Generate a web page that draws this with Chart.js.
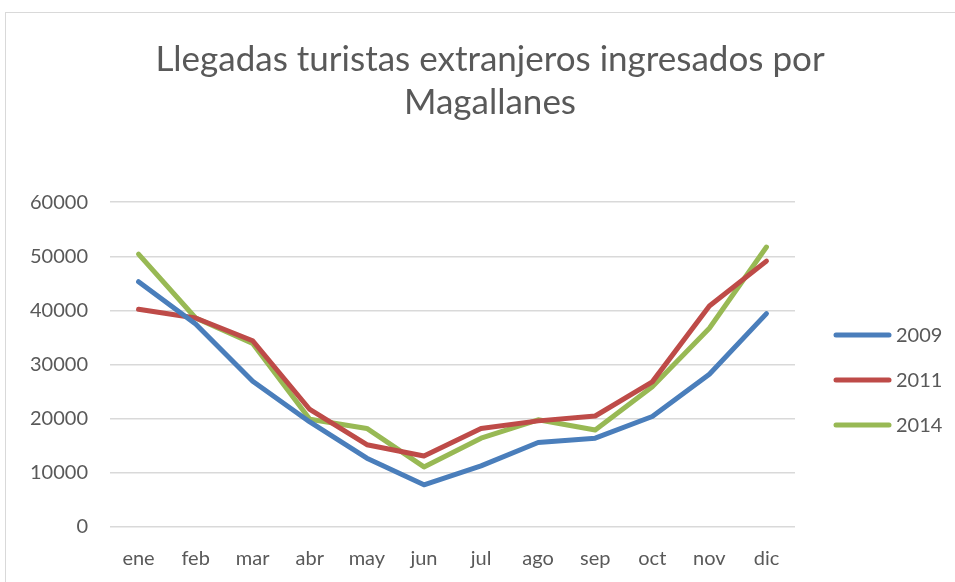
<!DOCTYPE html>
<html>
<head>
<meta charset="utf-8">
<script src="https://cdn.jsdelivr.net/npm/chart.js@4/dist/chart.umd.min.js"></script>
<style>
  html, body { margin: 0; padding: 0; background: #ffffff; overflow: hidden; }
  #wrap { position: absolute; left: 0; top: 0; width: 955px; height: 582px; }
  #frame { position: absolute; left: 5px; top: 12px; width: 1000px; height: 700px; border: 1px solid #d9d9d9; box-sizing: border-box; }
  canvas { position: absolute; left: 0; top: 0; }
</style>
</head>
<body>
<div id="wrap">
  <div id="frame"></div>
  <canvas id="c" width="955" height="582"></canvas>
</div>
<script>
const titleLines = ['Llegadas turistas extranjeros ingresados por', 'Magallanes'];
const months = ['ene', 'feb', 'mar', 'abr', 'may', 'jun', 'jul', 'ago', 'sep', 'oct', 'nov', 'dic'];
const seriesNames = ['2009', '2011', '2014'];
const values2009 = [45300, 37500, 26900, 19400, 12700, 7800, 11300, 15600, 16400, 20400, 28200, 39400];
const values2011 = [40200, 38600, 34400, 21700, 15200, 13100, 18200, 19600, 20500, 26800, 40800, 49100];
const values2014 = [50400, 38600, 33900, 19900, 18200, 11100, 16400, 19800, 17900, 25900, 36700, 51700];
const yTicks = [0, 10000, 20000, 30000, 40000, 50000, 60000];

const colors = ['#4a7ebb', '#be4b48', '#98b954'];
const textColor = '#595959';
const fontFamily = 'Lato, "Open Sans", sans-serif';

const legendPlugin = {
  id: 'sideLegend',
  afterDraw(chart) {
    const ctx = chart.ctx;
    ctx.save();
    const x0 = 836, x1 = 889, tx = 896;
    const y0 = 335, dy = 45;
    chart.data.datasets.forEach((ds, i) => {
      const y = y0 + i * dy;
      ctx.strokeStyle = ds.borderColor;
      ctx.lineWidth = 5;
      ctx.lineCap = 'round';
      ctx.beginPath();
      ctx.moveTo(x0, y);
      ctx.lineTo(x1, y);
      ctx.stroke();
      ctx.fillStyle = textColor;
      ctx.font = '20px ' + fontFamily;
      ctx.textAlign = 'left';
      ctx.textBaseline = 'middle';
      ctx.fillText(ds.label, tx, y + 1);
    });
    ctx.restore();
  }
};

const seriesValues = [values2009, values2011, values2014];

new Chart(document.getElementById('c'), {
  type: 'line',
  data: {
    labels: months,
    datasets: seriesNames.map((name, i) => ({
      label: name,
      data: seriesValues[i],
      borderColor: colors[i],
      backgroundColor: colors[i],
      borderWidth: 5,
      pointRadius: 0,
      pointHoverRadius: 0,
      tension: 0,
      borderCapStyle: 'round',
      borderJoinStyle: 'round',
      fill: false
    }))
  },
  options: {
    responsive: false,
    animation: false,
    devicePixelRatio: 1,
    layout: { padding: { left: 25, right: 0, top: 0, bottom: 0 } },
    plugins: {
      legend: { display: false },
      tooltip: { enabled: false },
      title: {
        display: true,
        text: titleLines,
        color: textColor,
        font: { family: fontFamily, size: 35, weight: 'normal', lineHeight: 1.23 },
        padding: { top: 38, bottom: 78 }
      }
    },
    scales: {
      x: {
        offset: true,
        grid: { display: false, drawTicks: false },
        border: { display: false },
        ticks: { color: textColor, font: { family: fontFamily, size: 20 }, padding: 20, maxRotation: 0 },
        afterFit(s) { s.height = 55; }
      },
      y: {
        min: 0,
        max: 60000,
        afterBuildTicks(s) { s.ticks = yTicks.map(v => ({ value: v })); },
        grid: { color: '#d9d9d9', lineWidth: 1.5, drawTicks: false },
        border: { display: false },
        ticks: { color: textColor, font: { family: fontFamily, size: 20 }, padding: 22, callback: v => String(v) },
        afterFit(s) { s.width = 85; }
      },
      legendSpace: {
        type: 'linear',
        position: 'right',
        display: true,
        grid: { display: false, drawTicks: false },
        border: { display: false },
        ticks: { display: false },
        afterFit(s) { s.width = 160; }
      }
    }
  },
  plugins: [legendPlugin]
});
</script>
</body>
</html>
